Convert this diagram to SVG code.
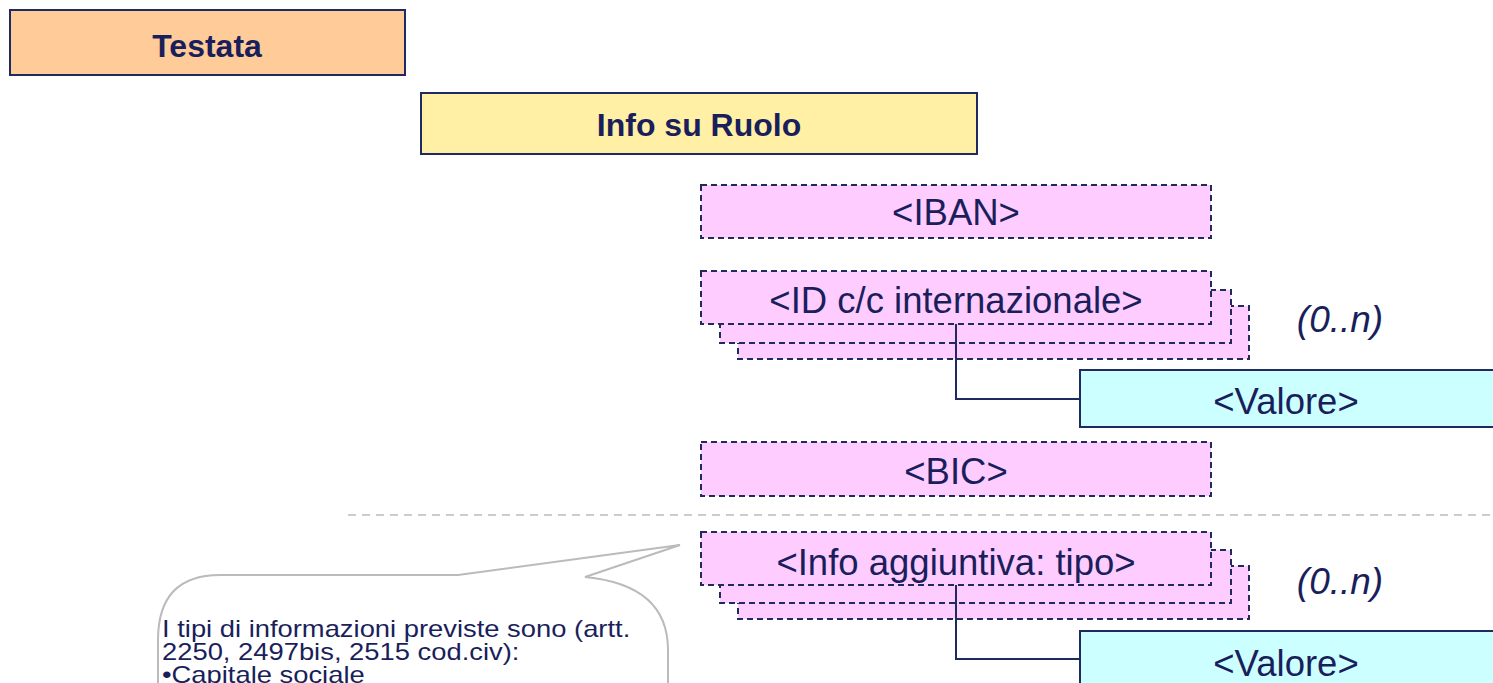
<svg xmlns="http://www.w3.org/2000/svg" width="1493" height="683" viewBox="0 0 1493 683">
<style>
.solid{stroke:#1F2A5E;stroke-width:2}
.dash{fill:#FFCCFF;stroke:#1F2A5E;stroke-width:2;stroke-dasharray:6 4}
.val{fill:#CCFFFF;stroke:#1F2A5E;stroke-width:2}
.t{font-family:"Liberation Sans",Arial,sans-serif;fill:#1A1F5C;text-anchor:middle}
.b{font-weight:bold;font-size:32px}
.n{font-size:36.5px}
.i{font-size:37px;font-style:italic}
.c{font-family:"Liberation Sans",Arial,sans-serif;fill:#1A1F5C;font-size:23px}
.conn{fill:none;stroke:#1F2A5E;stroke-width:2}
</style>
<rect width="1493" height="683" fill="#FFFFFF"/>
<g id="testata"><rect x="10" y="10" width="395" height="65" fill="#FFCC99" class="solid"/><text class="t b" x="207" y="57">Testata</text></g>
<g id="info-ruolo"><rect x="421" y="93" width="556" height="61" fill="#FFF0A5" class="solid"/><text class="t b" x="699" y="136">Info su Ruolo</text></g>
<g id="iban"><rect x="701" y="185" width="510" height="53" class="dash"/><text class="t n" x="956" y="225">&lt;IBAN&gt;</text></g>
<g id="idcc">
<rect x="738" y="306" width="511" height="53" class="dash"/>
<rect x="720" y="290" width="511" height="53" class="dash"/>
<rect x="701" y="271" width="510" height="53" class="dash"/>
<text class="t n" x="956" y="313">&lt;ID c/c internazionale&gt;</text>
</g>
<text class="t i" x="1340" y="332">(0..n)</text>
<g id="valore1"><rect x="1080" y="370" width="420" height="57" class="val"/><text class="t n" x="1286" y="414">&lt;Valore&gt;</text></g>
<g id="bic"><rect x="701" y="442" width="510" height="54" class="dash"/><text class="t n" x="956" y="484">&lt;BIC&gt;</text></g>
<line x1="348" y1="515" x2="1493" y2="515" stroke="#CCCCCC" stroke-width="2" stroke-dasharray="8 6"/>
<g id="infoagg">
<rect x="738" y="566" width="511" height="53" class="dash"/>
<rect x="720" y="550" width="511" height="53" class="dash"/>
<rect x="701" y="532" width="510" height="53" class="dash"/>
<text class="t n" x="956" y="575">&lt;Info aggiuntiva: tipo&gt;</text>
</g>
<text class="t i" x="1340" y="594">(0..n)</text>
<g id="valore2"><rect x="1080" y="631" width="420" height="60" class="val"/><text class="t n" x="1286" y="676">&lt;Valore&gt;</text></g>
<g id="connectors">
<path class="conn" d="M956 324 V399 H1080"/>
<path class="conn" d="M956 585 V659 H1080"/>
</g>
<g id="callout">
<path d="M220 575 L458 575 L680 545 L585 577 Q668 585 668 650 L668 700 L158 700 L158 640 Q158 575 220 575 Z" fill="#FFFFFF" stroke="#BBBBBB" stroke-width="2"/>
<g transform="translate(162 0) scale(1.19 1)">
<text class="c" x="0" y="637">I tipi di informazioni previste sono (artt.</text>
<text class="c" x="0" y="660">2250, 2497bis, 2515 cod.civ):</text>
<text class="c" x="0" y="683">•Capitale sociale</text>
</g>
</g>
</svg>
